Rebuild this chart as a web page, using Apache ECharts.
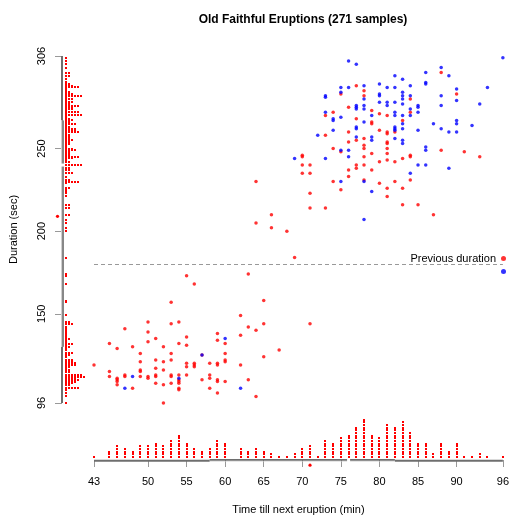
<!DOCTYPE html>
<html>
<head>
<meta charset="utf-8">
<script src="https://cdn.jsdelivr.net/npm/echarts@6.0.0/dist/echarts.min.js"></script>
<style>
html,body{margin:0;padding:0;background:#fff;}
#container{width:512px;height:520px;}
</style>
</head>
<body>
<div id="container"></div>
<script>
// [time till next eruption (min), duration (sec)], coloured by previous duration
var redPoints = [
	[43,119],
	[45,132],[45,115],[45,112],
	[46,129],[46,110],[46,109],[46,107],[46,111],
	[47,141],[47,112],[47,113],
	[48,130],[48,105],
	[49,126],[49,121],[49,116],[49,115],[49,112],
	[50,145],[50,139],[50,133],[50,112],[50,111],
	[51,135],[51,122],[51,117],[51,113],[51,112],[51,108],
	[52,130],[52,121],[52,116],[52,107],[52,96],
	[53,157],[53,144],[53,126],[53,122],[53,112],[53,108],[53,113],
	[54,145],[54,132],[54,113],[54,110],[54,108],[54,105],[54,104],[54,109],
	[55,173],[55,136],[55,131],[55,120],[55,118],[55,113],
	[56,168],[56,120],[56,118],[56,119],
	[57,125],[57,110],
	[58,120],[58,113],[58,111],[58,105],
	[59,138],[59,134],[59,120],[59,119],[59,110],[59,109],[59,102],
	[60,132],[60,126],[60,121],[60,109],[60,122],
	[62,149],[62,137],[62,119],
	[63,174],[63,142],[63,110],
	[64,230],[64,205],[64,140],[64,100],
	[65,158],[65,144],[65,124],
	[66,210],[66,202],
	[67,128],
	[68,200],
	[69,184],
	[70,246],[70,245],[70,240],[70,235],
	[71,240],[71,235],[71,223],[71,214],[71,144],
	[73,270],[73,258],[73,214],
	[74,272],[74,250],[74,230],
	[75,283],[75,248],[75,225],
	[76,275],[76,260],[76,254],[76,237],[76,233],
	[77,288],[77,268],[77,255],[77,240],[77,238],
	[78,285],[78,282],[78,256],[78,252],[78,250],[78,245],[78,240],[78,231],
	[79,273],[79,266],[79,265],[79,247],[79,237],
	[80,271],[80,261],[80,242],[80,229],
	[81,270],[81,260],[81,259],[81,254],[81,250],[81,247],[81,243],[81,226],[81,221],[81,253],
	[82,260],[82,242],[82,230],
	[83,267],[83,226],[83,216],[83,244],
	[84,280],[84,272],[84,246],[84,245],[84,231],
	[85,216],
	[87,210],
	[88,296],[88,249],
	[90,283],
	[91,248],
	[93,245]
];
var bluePoints = [
	[47,105],[48,112],[54,111],[57,125],[60,135],[62,105],
	[69,244],[72,258],
	[73,282],[73,272],[73,244],[73,281],
	[74,268],[74,261],[74,267],
	[75,287],[75,284],[75,269],[75,249],[75,230],
	[76,303],[76,287],[76,249],[76,245],
	[77,301],[77,275],[77,274],[77,262],[77,257],[77,276],[77,263],
	[78,288],[78,280],[78,276],[78,274],[78,266],[78,230],[78,207],
	[79,270],[79,257],[79,255],[79,224],
	[80,289],[80,282],[80,278],[80,283],
	[81,287],[81,278],[81,276],
	[82,294],[82,287],[82,278],[82,272],[82,270],[82,263],[82,262],[82,261],[82,256],
	[83,292],[83,282],[83,270],[83,265],[83,255],[83,284],[83,277],[83,262],[83,280],[83,253],
	[84,288],[84,282],[84,274],[84,270],[84,235],
	[85,276],[85,275],[85,272],[85,261],[85,240],
	[86,296],[86,290],[86,251],[86,249],[86,240],[86,289],
	[87,265],
	[88,299],[88,282],[88,276],[88,262],
	[89,294],[89,260],[89,238],
	[90,286],[90,279],[90,267],[90,265],[90,260],
	[92,264],
	[93,277],
	[94,287],
	[96,305]
];
var xTicks = [43,50,55,60,65,70,75,80,85,90,96];
var yTicks = [96,150,200,250,306];
// min, Q1, median, Q3, max
var xQuart = [43,58,76,82,96];
var yQuart = [96,130,240,267,306];
var xMean = 71;
var yMean = 209;
var cutoff = 180;

var allPoints = redPoints.concat(bluePoints);
function countBy(pts, idx){
	var m = {};
	pts.forEach(function(p){ m[p[idx]] = (m[p[idx]] || 0) + 1; });
	return Object.keys(m).map(function(k){ return [+k, m[k]]; });
}
var xHist = countBy(allPoints, 0);
var yHist = countBy(allPoints, 1);

var xMin = xQuart[0], xMax = xQuart[4], yMin = yQuart[0], yMax = yQuart[4];
var font = "'Liberation Sans', Arial, sans-serif";
var RED = '#ff0000', BLUE = '#0000ff';

var myChart = echarts.init(document.getElementById('container'));

function seg(x1, y1, x2, y2, color, w){
	return {type:'line', shape:{x1:x1, y1:y1, x2:x2, y2:y2}, style:{stroke:color, lineWidth:w}};
}

option = {
	animation: false,
	backgroundColor: '#fff',
	textStyle: {fontFamily: font},
	title: {
		text: 'Old Faithful Eruptions (271 samples)',
		left: 298, top: 9, textAlign: 'center',
		textStyle: {fontSize: 12, fontWeight: 'bold', color: '#000', fontFamily: font}
	},
	legend: [{
		data: [{name: 'long', icon: 'circle'}],
		formatter: function(){ return 'Previous duration'; },
		right: 3, top: 250, orient: 'vertical', align: 'right',
		itemWidth: 5, itemHeight: 5,
		padding: [3, 3, 3, 3],
		backgroundColor: '#fff',
		selectedMode: false,
		textStyle: {fontSize: 11, color: '#000', fontFamily: font}
	},{
		data: [{name: 'short', icon: 'circle'}],
		formatter: function(){ return ''; },
		right: 3, top: 267, orient: 'vertical', align: 'right',
		itemWidth: 5, itemHeight: 5,
		padding: [2, 3, 2, 3],
		backgroundColor: '#fff',
		selectedMode: false,
		textStyle: {fontSize: 11, color: '#000', fontFamily: font}
	}],
	grid: {left: 93, right: 9, top: 56, bottom: 117},
	xAxis: {
		type: 'value', min: xMin, max: xMax, offset: 57,
		name: 'Time till next eruption (min)', nameLocation: 'middle', nameGap: 44,
		nameTextStyle: {fontSize: 11, color: '#000', fontFamily: font},
		axisLine: {show: false},
		axisTick: {show: true, length: 7, customValues: xTicks, lineStyle: {color: '#999'}},
		axisLabel: {customValues: xTicks, margin: 16, fontSize: 11, color: '#000', fontFamily: font},
		splitLine: {show: false}
	},
	yAxis: {
		type: 'value', min: yMin, max: yMax, offset: 32,
		name: 'Duration (sec)', nameLocation: 'middle', nameGap: 43,
		nameTextStyle: {fontSize: 11, color: '#000', fontFamily: font},
		axisLine: {show: false},
		axisTick: {show: true, length: 7, customValues: yTicks, lineStyle: {color: '#999'}},
		axisLabel: {customValues: yTicks, rotate: 90, margin: 15, fontSize: 11, color: '#000', fontFamily: font},
		splitLine: {show: false}
	},
	series: [{
		name: 'long', type: 'scatter', data: redPoints,
		symbol: 'circle', symbolSize: 3.5, itemStyle: {color: RED},
		silent: true,
		markLine: {
			silent: true, symbol: 'none', label: {show: false},
			lineStyle: {color: '#999', width: 1, type: [4, 3]},
			data: [{yAxis: cutoff}]
		}
	},{
		name: 'short', type: 'scatter', data: bluePoints,
		symbol: 'circle', symbolSize: 3.5, itemStyle: {color: BLUE},
		silent: true
	},{
		// stacked dots under the x axis range
		type: 'custom', data: xHist, silent: true,
		renderItem: function(params, api){
			var p = api.coord([api.value(0), yMin]);
			var n = api.value(1), kids = [];
			for (var k = 0; k < n; k++) {
				kids.push({type:'rect', shape:{x:Math.round(p[0]-1), y:Math.round(p[1]+53-k*2.67), width:2, height:2}, style:{fill:RED}});
			}
			return {type:'group', children:kids};
		}
	},{
		// stacked dots beside the y axis range
		type: 'custom', data: yHist, silent: true,
		encode: {x: 1, y: 0},
		renderItem: function(params, api){
			var p = api.coord([xMin, api.value(0)]);
			var n = api.value(1), kids = [];
			for (var k = 0; k < n; k++) {
				kids.push({type:'rect', shape:{x:Math.round(p[0]-29+k*3), y:Math.round(p[1]-1), width:2, height:2}, style:{fill:RED}});
			}
			return {type:'group', children:kids};
		}
	},{
		// quartile range frames and mean markers
		type: 'custom', data: [[xMin, yMin]], silent: true,
		renderItem: function(params, api){
			var o = api.coord([xMin, yMin]);
			var ax = o[1] + 57.7, ay = o[0] - 32;
			var X = function(v){ return api.coord([v, yMin])[0]; };
			var Y = function(v){ return api.coord([xMin, v])[1]; };
			var kids = [];
			var xm = X(xQuart[2]), ym = Y(yQuart[2]);
			kids.push(seg(X(xQuart[0]), ax, X(xQuart[1]), ax, '#6e6e6e', 2));
			kids.push(seg(X(xQuart[3]), ax, X(xQuart[4]), ax, '#6e6e6e', 2));
			kids.push(seg(X(xQuart[1]), ax+0.3, xm-1.5, ax+0.3, '#cfcfcf', 1));
			kids.push(seg(xm+1.5, ax+0.3, X(xQuart[3]), ax+0.3, '#cfcfcf', 1));
			kids.push(seg(X(xQuart[1]), ax-0.8, xm-1.5, ax-0.8, '#111', 1));
			kids.push(seg(xm+1.5, ax-0.8, X(xQuart[3]), ax-0.8, '#111', 1));
			kids.push(seg(ay, Y(yQuart[0]), ay, Y(yQuart[1]), '#6e6e6e', 2));
			kids.push(seg(ay, Y(yQuart[3]), ay, Y(yQuart[4]), '#6e6e6e', 2));
			kids.push(seg(ay-0.5, Y(yQuart[1]), ay-0.5, ym+1.5, '#cfcfcf', 1));
			kids.push(seg(ay-0.5, ym-1.5, ay-0.5, Y(yQuart[3]), '#cfcfcf', 1));
			kids.push(seg(ay+1, Y(yQuart[1]), ay+1, ym+1.5, '#111', 1));
			kids.push(seg(ay+1, ym-1.5, ay+1, Y(yQuart[3]), '#111', 1));
			kids.push({type:'circle', shape:{cx:X(xMean), cy:ax+4.5, r:1.6}, style:{fill:RED}});
			kids.push({type:'circle', shape:{cx:ay-4.5, cy:Y(yMean), r:1.6}, style:{fill:RED}});
			return {type:'group', children:kids};
		}
	}]
};
if (option && typeof option === "object") {
	myChart.setOption(option, true);
}
</script>
</body>
</html>
